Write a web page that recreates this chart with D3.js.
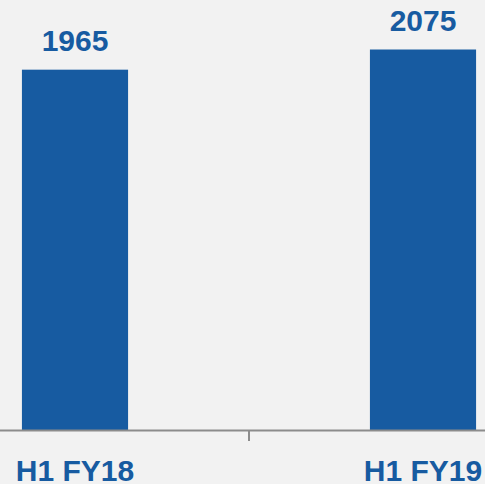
<!DOCTYPE html>
<html>
<head>
<meta charset="utf-8">
<script src="https://cdn.jsdelivr.net/npm/d3@7"></script>
<style>
  body { margin: 0; background: #f2f2f2; }
  svg { display: block; }
</style>
</head>
<body>
<div id="chart-area"></div>
<script>
// data
const periods = ["H1 FY18", "H1 FY19"]
const values = [1965, 2075]

const WIDTH = 485
const HEIGHT = 484
const BASE = 430
const BLUE = "#175ba1"

const svg = d3.select("#chart-area").append("svg")
  .attr("width", WIDTH)
  .attr("height", HEIGHT)
  .style("background", "#f2f2f2")

// scales
const x = d3.scaleBand()
  .domain(periods)
  .range([-99, 597])
  .paddingInner(0.695)
  .paddingOuter(0.3475)

const y = d3.scaleLinear()
  .domain([0, 2345])
  .range([BASE, 0])

// bars
svg.selectAll(".bar")
  .data(periods)
  .enter().append("rect")
  .attr("class", "bar")
  .attr("x", d => x(d))
  .attr("width", x.bandwidth())
  .attr("y", (d, i) => y(values[i]))
  .attr("height", (d, i) => BASE - y(values[i]))
  .attr("fill", BLUE)

// value labels
svg.selectAll(".val")
  .data(periods)
  .enter().append("text")
  .attr("class", "val")
  .attr("x", d => x(d) + x.bandwidth() / 2)
  .attr("y", (d, i) => y(values[i]) - 18.5)
  .attr("text-anchor", "middle")
  .attr("font-family", "Liberation Sans, Arial, sans-serif")
  .attr("font-weight", "bold")
  .attr("font-size", "30px")
  .attr("fill", BLUE)
  .text((d, i) => values[i])

// axis line + tick between categories
svg.append("line")
  .attr("x1", 0).attr("x2", WIDTH)
  .attr("y1", BASE + 0.5).attr("y2", BASE + 0.5)
  .attr("stroke", "#8c8c8c")
  .attr("stroke-width", 2)

const mid = x(periods[1]) - x.step() * x.paddingInner() / 2
svg.append("line")
  .attr("x1", mid).attr("x2", mid)
  .attr("y1", BASE + 1).attr("y2", BASE + 11)
  .attr("stroke", "#8c8c8c")
  .attr("stroke-width", 2)

// category labels
svg.selectAll(".cat")
  .data(periods)
  .enter().append("text")
  .attr("class", "cat")
  .attr("x", d => x(d) + x.bandwidth() / 2)
  .attr("y", 481)
  .attr("text-anchor", "middle")
  .attr("font-family", "Liberation Sans, Arial, sans-serif")
  .attr("font-weight", "bold")
  .attr("font-size", "30px")
  .attr("fill", BLUE)
  .text(d => d)
</script>
</body>
</html>
